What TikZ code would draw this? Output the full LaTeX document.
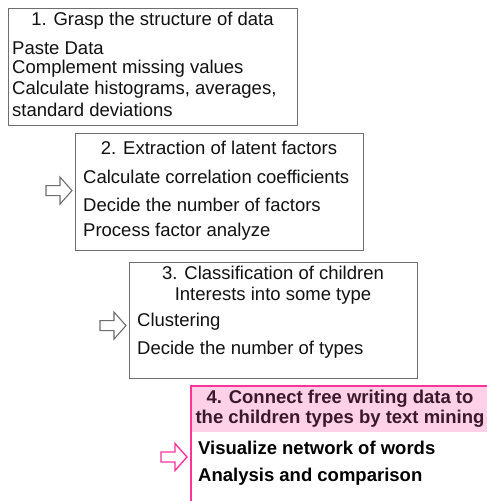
\documentclass[tikz,border=0pt]{standalone}
\usepackage{fontspec}
\setmainfont{Liberation Sans}
\definecolor{boxgray}{HTML}{6E6E6E}
\definecolor{mypink}{HTML}{FF3399}
\definecolor{pinkfill}{HTML}{FFD1E8}
\definecolor{titledark}{HTML}{3A1A2A}
\definecolor{txt}{HTML}{111111}
\newcommand\blockarrow[2]{\draw[#2] (#1) -- ++(-12,-13.5) -- ++(0,8.5) -- ++(-14,0) -- ++(0,10) -- ++(14,0) -- ++(0,8.5) -- cycle;}
\begin{document}
\begin{tikzpicture}[x=1pt,y=-1pt,
  font=\fontsize{18.5}{21}\selectfont, text=txt,
  box/.style={draw=boxgray, line width=1.2pt, anchor=north west, inner sep=0pt, fill=white},
  box4/.style={draw=mypink, line width=2pt, anchor=north west, inner sep=0pt},
  head4/.style={fill=pinkfill, anchor=north west, inner sep=0pt},
  title/.style={anchor=center, inner sep=0pt, align=center},
  item/.style={anchor=west, inner sep=0pt},
  grayarrow/.style={draw=boxgray, line width=1.1pt, fill=white, line join=miter},
  pinkarrow/.style={draw=mypink, line width=1.4pt, fill=white, line join=miter}]
\useasboundingbox (0,0) rectangle (487,501);
\clip (0,0) rectangle (487,501);
\fill[white] (0,0) rectangle (487,501);

% Box 1
\node[box, minimum width=289pt, minimum height=117pt] (b1) at (8,8) {};
\node[title] (t1) at (152.5,21) {1. Grasp the structure of data};
\node[item] (l11) at (12,48) {Paste Data};
\node[item] (l12) at (12,69) {Complement missing values};
\node[item] (l13) at (12,90) {Calculate histograms, averages,};
\node[item] (l14) at (12,110) {standard deviations};

% Box 2
\node[box, minimum width=288pt, minimum height=117pt] (b2) at (75,133) {};
\node[title] (t2) at (219,148) {2. Extraction of latent factors};
\node[item] (l21) at (83,177) {Calculate correlation coefficients};
\node[item] (l22) at (83,205) {Decide the number of factors};
\node[item] (l23) at (83,232) {Process factor analyze};

% Box 3
\node[box, minimum width=288pt, minimum height=116pt] (b3) at (129,262) {};
\node[title] (t3) at (273,285) {3. Classification of children\\Interests into some type};
\node[item] (l31) at (137,322) {Clustering};
\node[item] (l32) at (137,350) {Decide the number of types};

% Box 4
\node[head4, minimum width=300pt, minimum height=47pt] (h4) at (190,385) {};
\node[box4, minimum width=300pt, minimum height=130pt] (b4) at (190,385) {};
\node[title, text=titledark, font=\fontsize{18.5}{20}\selectfont\bfseries] (t4) at (340,409) {4. Connect free writing data to\\the children types by text mining};
\node[item, font=\fontsize{18.5}{21}\selectfont\bfseries, text=black] (l41) at (198,448) {Visualize network of words};
\node[item, font=\fontsize{18.5}{21}\selectfont\bfseries, text=black] (l42) at (198,477) {Analysis and comparison};

% Arrows
\path (b2.west) ++(-3,-1.5) coordinate (a2);
\path (b3.west) ++(-3,5) coordinate (a3);
\path (b4.west) ++(-3,6) coordinate (a4);
\blockarrow{a2}{grayarrow}
\blockarrow{a3}{grayarrow}
\blockarrow{a4}{pinkarrow}
\end{tikzpicture}
\end{document}
